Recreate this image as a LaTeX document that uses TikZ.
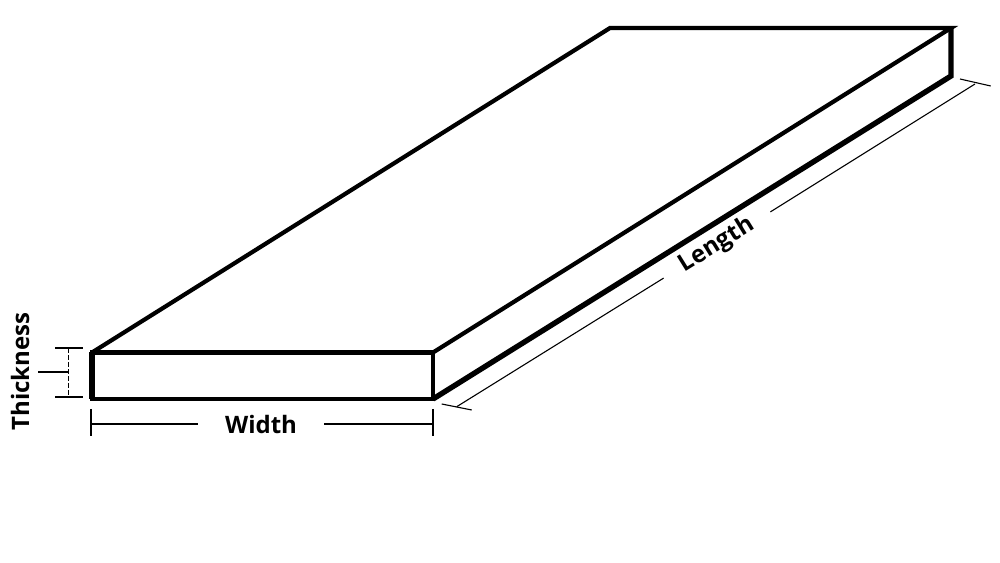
\documentclass[tikz,border=0pt]{standalone}
\usepackage{fontspec}
\setmainfont{Open Sans}
\tikzset{
  board/.style={black,line width=4.2bp,line join=miter},
  dimline/.style={black,line width=1.1bp},
  dimtext/.style={font=\fontsize{24bp}{28bp}\selectfont\bfseries,inner ysep=0pt},
}
\begin{document}
\begin{tikzpicture}[line join=bevel,]
%%
\useasboundingbox (0bp,0bp) rectangle (1000bp,563bp);
\coordinate (front_tl) at (92.0bp,210.5bp);
\coordinate (front_tr) at (433.0bp,210.5bp);
\coordinate (front_br) at (433.0bp,164.0bp);
\coordinate (front_bl) at (92.0bp,164.0bp);
\coordinate (back_tl) at (610.0bp,535.0bp);
\coordinate (back_tr) at (951.0bp,535.0bp);
\coordinate (back_br) at (951.0bp,487.0bp);
%
\draw [board] (front_tl) -- (back_tl) -- (back_tr) -- (front_tr);
\draw [board,line width=4.6bp] (front_tl) -- (front_tr) -- (front_br) -- (front_bl) -- cycle;
\draw [board,line width=5.4bp] (front_br) -- (back_br) -- (back_tr);
\draw [board,line width=5.5bp] (front_tl) -- (front_bl);
%
\node (node_width) at (261.0bp,138.0bp) [dimtext,inner xsep=27bp] {Width};
\node (node_length) at (717.0bp,318.0bp) [dimtext,inner xsep=21bp,rotate=31.8] {Length};
\node (node_thickness) at (20.0bp,191.5bp) [dimtext,rotate=90] {Thickness};
%
\coordinate (width_a) at (91.0bp,139.0bp);
\coordinate (width_a1) at (91.0bp,154.0bp);
\coordinate (width_a2) at (91.0bp,127.0bp);
\coordinate (width_b) at (433.0bp,139.0bp);
\coordinate (width_b1) at (433.0bp,154.0bp);
\coordinate (width_b2) at (433.0bp,127.0bp);
\draw [dimline] (width_a1) -- (width_a2);
\draw [dimline] (width_b1) -- (width_b2);
\draw [dimline] (width_a) -- (node_width.west |- width_a);
\draw [dimline] (node_width.east |- width_b) -- (width_b);
%
\coordinate (length_a) at (456.7bp,156.3bp);
\coordinate (length_a1) at (441.7bp,159.0bp);
\coordinate (length_a2) at (471.7bp,153.0bp);
\coordinate (length_b) at (975.0bp,479.0bp);
\coordinate (length_b1) at (960.0bp,484.0bp);
\coordinate (length_b2) at (990.7bp,477.0bp);
\draw [dimline] (length_a1) -- (length_a2);
\draw [dimline] (length_b1) -- (length_b2);
\draw [dimline] (length_a) -- (node_length.west);
\draw [dimline] (node_length.east) -- (length_b);
%
\coordinate (thick_a) at (68.0bp,215.0bp);
\coordinate (thick_a1) at (55.0bp,215.0bp);
\coordinate (thick_a2) at (83.0bp,215.0bp);
\coordinate (thick_b) at (68.0bp,166.0bp);
\coordinate (thick_b1) at (55.0bp,166.0bp);
\coordinate (thick_b2) at (83.0bp,166.0bp);
\coordinate (thick_c) at (38.0bp,191.0bp);
\coordinate (thick_d) at (68.0bp,191.0bp);
\draw [dimline] (thick_a1) -- (thick_a2);
\draw [dimline] (thick_b1) -- (thick_b2);
\draw [dimline] (thick_c) -- (thick_d);
\draw [black,line width=0.8bp,dash pattern=on 5bp off 2bp] (thick_a) -- (thick_b);
%
\end{tikzpicture}
\end{document}
